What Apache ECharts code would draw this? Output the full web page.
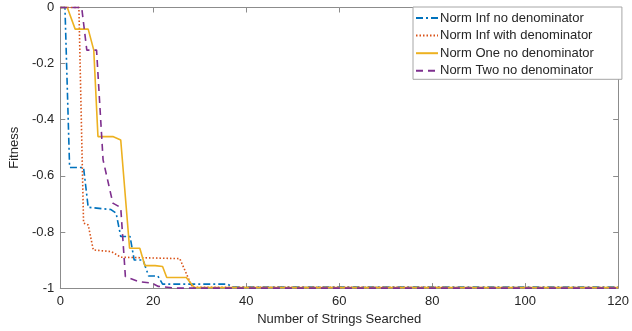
<!DOCTYPE html>
<html><head><meta charset="utf-8">
<script src="https://cdn.jsdelivr.net/npm/echarts@6/dist/echarts.min.js"></script>
<style>html,body{margin:0;padding:0;background:#fff}#c{width:632px;height:331px}</style>
</head><body><div id="c"></div>
<script>
const seriesNames = ["Norm Inf no denominator","Norm Inf with denominator","Norm One no denominator","Norm Two no denominator"];
const infNoX = [0,1,2,5,6,10.9,12,13,15,15.9,17.8,19,21,22,36,37,120];
const infNoY = [0,0,-0.57,-0.57,-0.712,-0.72,-0.733,-0.816,-0.816,-0.9,-0.9,-0.957,-0.957,-0.986,-0.986,-0.996,-0.996];
const infWithX = [0,4,5,6,7.1,11,13,25.7,28.4,120];
const infWithY = [0,0,-0.768,-0.775,-0.864,-0.87,-0.89,-0.895,-0.997,-0.998];
const oneNoX = [0,1.5,3.2,6,7.2,8.1,11.3,13,14.9,17.1,18.2,20.4,22,22.9,27.1,28.8,120];
const oneNoY = [0,0,-0.077,-0.077,-0.152,-0.46,-0.46,-0.472,-0.858,-0.858,-0.92,-0.92,-0.923,-0.962,-0.962,-0.998,-0.998];
const twoNoX = [0,4.6,5.7,7.8,9.2,11.3,13.0,14.0,16.9,19.7,21.1,25,120];
const twoNoY = [0,0,-0.152,-0.152,-0.543,-0.697,-0.713,-0.959,-0.977,-0.982,-0.994,-1,-1];
const xTicks = [0,20,40,60,80,100,120];
const yTicks = [-1,-0.8,-0.6,-0.4,-0.2,0];

const colors = ['#0072BD','#D95319','#EDB120','#7E2F8E'];
const dashes = [[7,3,2,3],[1.5,2],'solid',[7,5]];
const xs = [infNoX, infWithX, oneNoX, twoNoX];
const ys = [infNoY, infWithY, oneNoY, twoNoY];
const font = 'Liberation Sans, Arial, sans-serif';

const chart = echarts.init(document.getElementById('c'));
const axisLineStyle = {color:'#8c8c8c', width:1};
chart.setOption({
  animation:false,
  backgroundColor:'#fff',
  grid:{left:53, right:10, top:7.5, bottom:40.5},
  legend:{
    orient:'vertical', left:413, top:7,
    data:seriesNames,
    backgroundColor:'#fff', borderColor:'#a6a6a6', borderWidth:1,
    padding:[4.5,28,2,2], itemGap:4.6, itemWidth:22, itemHeight:13,
    itemStyle:{opacity:0},
    textStyle:{fontFamily:font, fontSize:13, lineHeight:13, color:'#262626', padding:[0,0,0,-3]}
  },
  xAxis:[{
    type:'value', min:0, max:120, interval:20,
    name:'Number of Strings Searched', nameLocation:'middle', nameGap:24,
    nameTextStyle:{fontFamily:font, fontSize:13, color:'#262626'},
    axisLine:{show:true, onZero:false, lineStyle:axisLineStyle},
    axisTick:{show:true, inside:true, length:5, lineStyle:axisLineStyle},
    axisLabel:{fontFamily:font, fontSize:13, color:'#262626', margin:7},
    splitLine:{show:false}
  },{
    type:'value', min:0, max:120, interval:20, position:'top',
    axisLine:{show:true, onZero:false, lineStyle:axisLineStyle},
    axisTick:{show:true, inside:true, length:5, lineStyle:axisLineStyle},
    axisLabel:{show:false}, splitLine:{show:false}
  }],
  yAxis:[{
    type:'value', min:-1, max:0, interval:0.2,
    name:'Fitness', nameLocation:'middle', nameGap:31, nameRotate:90,
    nameTextStyle:{fontFamily:font, fontSize:13, color:'#262626'},
    axisLine:{show:true, onZero:false, lineStyle:axisLineStyle},
    axisTick:{show:true, inside:true, length:5, lineStyle:axisLineStyle},
    axisLabel:{fontFamily:font, fontSize:13, color:'#262626', margin:6},
    splitLine:{show:false}
  },{
    type:'value', min:-1, max:0, interval:0.2, position:'right',
    axisLine:{show:true, onZero:false, lineStyle:axisLineStyle},
    axisTick:{show:true, inside:true, length:5, lineStyle:axisLineStyle},
    axisLabel:{show:false}, splitLine:{show:false}
  }],
  series: seriesNames.map((n,i)=>({
    name:n, type:'line', xAxisIndex:0, yAxisIndex:0,
    data: xs[i].map((x,j)=>[x, ys[i][j]]),
    symbol:'none', showSymbol:false, clip:false,
    color:colors[i],
    lineStyle:{color:colors[i], width:1.6, type:dashes[i]},
    z: 2+i
  }))
});
</script></body></html>
